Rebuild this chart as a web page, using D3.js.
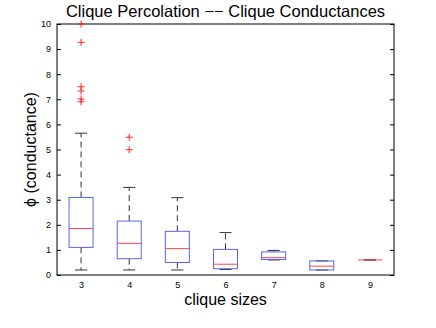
<!DOCTYPE html>
<html><head><meta charset="utf-8">
<script src="https://cdn.jsdelivr.net/npm/d3@7"></script>
<style>body{margin:0;background:#fff}svg{display:block}text{font-family:"Liberation Sans",Arial,sans-serif}</style>
</head><body><svg id="c" width="436" height="328"></svg>
<script>
const categories = [3,4,5,6,7,8,9];
const q1      = [1.10,0.65,0.50,0.25,0.62,0.20,0.60];
const medians = [1.85,1.26,1.05,0.43,0.69,0.35,0.60];
const q3      = [3.09,2.15,1.74,1.02,0.92,0.56,0.60];
const whiskLo = [0.20,0.20,0.20,0.22,0.60,0.20,0.60];
const whiskHi = [5.65,3.49,3.08,1.69,0.98,0.56,0.60];
const outliers = [[10.0,9.27,7.5,7.33,7.01,6.9],[5.49,4.99],[],[],[],[],[]];
const yTicks = [0,1,2,3,4,5,6,7,8,9,10];

const svg = d3.select("#c");
const L=57,R=394,T=24,B=275;
const x = d3.scaleLinear().domain([2.5,9.5]).range([L,R]);
const y = d3.scaleLinear().domain([0,10]).range([B,T]);
const boxHalf = 12, capHalf = 6;

const gl = svg.append("g").attr("transform",`translate(${L},0)`).call(d3.axisLeft(y).tickValues(yTicks).tickSize(-4).tickPadding(6).tickFormat(d3.format("d")));
const gr = svg.append("g").attr("transform",`translate(${R},0)`).call(d3.axisRight(y).tickValues(yTicks).tickSize(-4).tickFormat(""));
const gb = svg.append("g").attr("transform",`translate(0,${B})`).call(d3.axisBottom(x).tickValues(categories).tickSize(0).tickPadding(7).tickFormat(d3.format("d")));
[gl,gr,gb].forEach(g=>{g.select(".domain").remove();g.selectAll("line").attr("stroke","#000");g.selectAll("text").attr("font-size",9).attr("fill","#000").attr("font-family","Liberation Sans, Arial, sans-serif");});
svg.append("rect").attr("x",L).attr("y",T).attr("width",R-L).attr("height",B-T).attr("fill","none").attr("stroke","#000").attr("stroke-width",1);

const g = svg.append("g");
categories.forEach((c,i)=>{
  const cx = x(c);
  g.append("line").attr("x1",cx).attr("x2",cx).attr("y1",y(q3[i])).attr("y2",y(whiskHi[i])).attr("stroke","#333").attr("stroke-dasharray","6,4");
  g.append("line").attr("x1",cx).attr("x2",cx).attr("y1",y(q1[i])).attr("y2",y(whiskLo[i])).attr("stroke","#333").attr("stroke-dasharray","6,4");
  g.append("line").attr("x1",cx-capHalf).attr("x2",cx+capHalf).attr("y1",y(whiskHi[i])).attr("y2",y(whiskHi[i])).attr("stroke","#333");
  g.append("line").attr("x1",cx-capHalf).attr("x2",cx+capHalf).attr("y1",y(whiskLo[i])).attr("y2",y(whiskLo[i])).attr("stroke","#333");
  g.append("rect").attr("x",cx-boxHalf).attr("width",2*boxHalf).attr("y",y(q3[i])).attr("height",Math.max(0,y(q1[i])-y(q3[i]))).attr("fill","none").attr("stroke","#5566ee");
  g.append("line").attr("x1",cx-boxHalf).attr("x2",cx+boxHalf).attr("y1",y(medians[i])).attr("y2",y(medians[i])).attr("stroke","#ff4444");
  outliers[i].forEach(v=>{
    const py=y(v);
    g.append("path").attr("d",`M${cx-3.5},${py}H${cx+3.5}M${cx},${py-3.5}V${py+3.5}`).attr("stroke","#ff2222");
  });
});

svg.append("text").attr("x",(L+R)/2).attr("y",17).attr("text-anchor","middle").attr("font-size",16.5).text("Clique Percolation −− Clique Conductances");
svg.append("text").attr("x",(L+R)/2).attr("y",305).attr("text-anchor","middle").attr("font-size",16).text("clique sizes");
svg.append("text").attr("transform",`translate(36,${(T+B)/2}) rotate(-90)`).attr("text-anchor","middle").attr("font-size",16).text("ϕ (conductance)");
</script></body></html>
